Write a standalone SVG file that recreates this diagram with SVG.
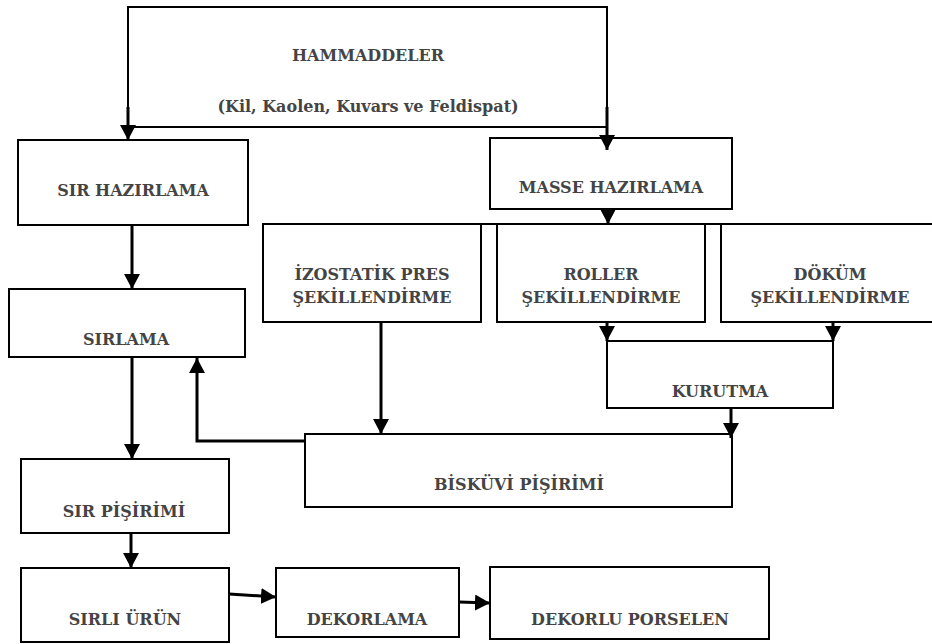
<svg xmlns="http://www.w3.org/2000/svg" width="932" height="644" viewBox="0 0 932 644">
<style>
.box{fill:#fff;stroke:#000;stroke-width:2}
.t{font-family:"DejaVu Serif",serif;font-weight:bold;font-size:16px;fill:#444;text-anchor:middle}
.c{fill:none;stroke:#000;stroke-width:3}
</style>
<defs>
<marker id="ah" markerUnits="userSpaceOnUse" markerWidth="16" markerHeight="16" refX="15" refY="8" orient="auto">
<path d="M0,0 L15,8 L0,16 Z" fill="#000"/>
</marker>
</defs>
<rect width="932" height="644" fill="#fff"/>
<g id="hammaddeler">
<rect class="box" x="128" y="7" width="479" height="120"/>
<text class="t" x="368" y="61">HAMMADDELER</text>
<text class="t" x="368" y="112">(Kil, Kaolen, Kuvars ve Feldispat)</text>
</g>
<g id="sir-hazirlama">
<rect class="box" x="18" y="140" width="230" height="85"/>
<text class="t" x="133" y="196">SIR HAZIRLAMA</text>
</g>
<g id="masse-hazirlama">
<rect class="box" x="490" y="138" width="242" height="71"/>
<text class="t" x="611" y="193">MASSE HAZIRLAMA</text>
</g>
<g id="izostatik">
<rect class="box" x="263" y="224" width="218" height="98"/>
<text class="t" x="372" y="280">İZOSTATİK PRES</text>
<text class="t" x="372" y="303">ŞEKİLLENDİRME</text>
</g>
<g id="roller">
<rect class="box" x="497" y="224" width="208" height="98"/>
<text class="t" x="601" y="280">ROLLER</text>
<text class="t" x="601" y="303">ŞEKİLLENDİRME</text>
</g>
<g id="dokum">
<rect class="box" x="721" y="224" width="220" height="98"/>
<text class="t" x="830" y="280">DÖKÜM</text>
<text class="t" x="830" y="303">ŞEKİLLENDİRME</text>
</g>
<g id="kurutma">
<rect class="box" x="607" y="341" width="226" height="67"/>
<text class="t" x="720" y="397">KURUTMA</text>
</g>
<g id="biskuvi">
<rect class="box" x="305" y="434" width="427" height="73"/>
<text class="t" x="519" y="490">BİSKÜVİ PİŞİRİMİ</text>
</g>
<g id="sirlama">
<rect class="box" x="9" y="289" width="236" height="68"/>
<text class="t" x="126" y="345">SIRLAMA</text>
</g>
<g id="sir-pisirimi">
<rect class="box" x="21" y="459" width="208" height="74"/>
<text class="t" x="124" y="517">SIR PİŞİRİMİ</text>
</g>
<g id="sirli-urun">
<rect class="box" x="21" y="568" width="208" height="74"/>
<text class="t" x="125" y="625">SIRLI ÜRÜN</text>
</g>
<g id="dekorlama">
<rect class="box" x="276" y="568" width="183" height="69"/>
<text class="t" x="367" y="625">DEKORLAMA</text>
</g>
<g id="dekorlu-porselen">
<rect class="box" x="490" y="567" width="279" height="72"/>
<text class="t" x="630" y="625">DEKORLU PORSELEN</text>
</g>
<g id="connectors">
<line class="c" x1="263" y1="224" x2="932" y2="224" style="stroke-width:2"/>
<path class="c" d="M128,107 V140" marker-end="url(#ah)"/>
<path class="c" d="M607,107 V150" marker-end="url(#ah)"/>
<path class="c" d="M608,209 V224" marker-end="url(#ah)"/>
<path class="c" d="M607,322 V341" marker-end="url(#ah)"/>
<path class="c" d="M833,322 V341" marker-end="url(#ah)"/>
<path class="c" d="M731,408 V438" marker-end="url(#ah)"/>
<path class="c" d="M381,322 V434" marker-end="url(#ah)"/>
<path class="c" d="M305,441 H197 V358" marker-end="url(#ah)"/>
<path class="c" d="M132,225 V289" marker-end="url(#ah)"/>
<path class="c" d="M132,357 V459" marker-end="url(#ah)"/>
<path class="c" d="M131,533 V568" marker-end="url(#ah)"/>
<path class="c" d="M229,594 L276,597" marker-end="url(#ah)"/>
<path class="c" d="M459,602 L490,603" marker-end="url(#ah)"/>
</g>
</svg>
